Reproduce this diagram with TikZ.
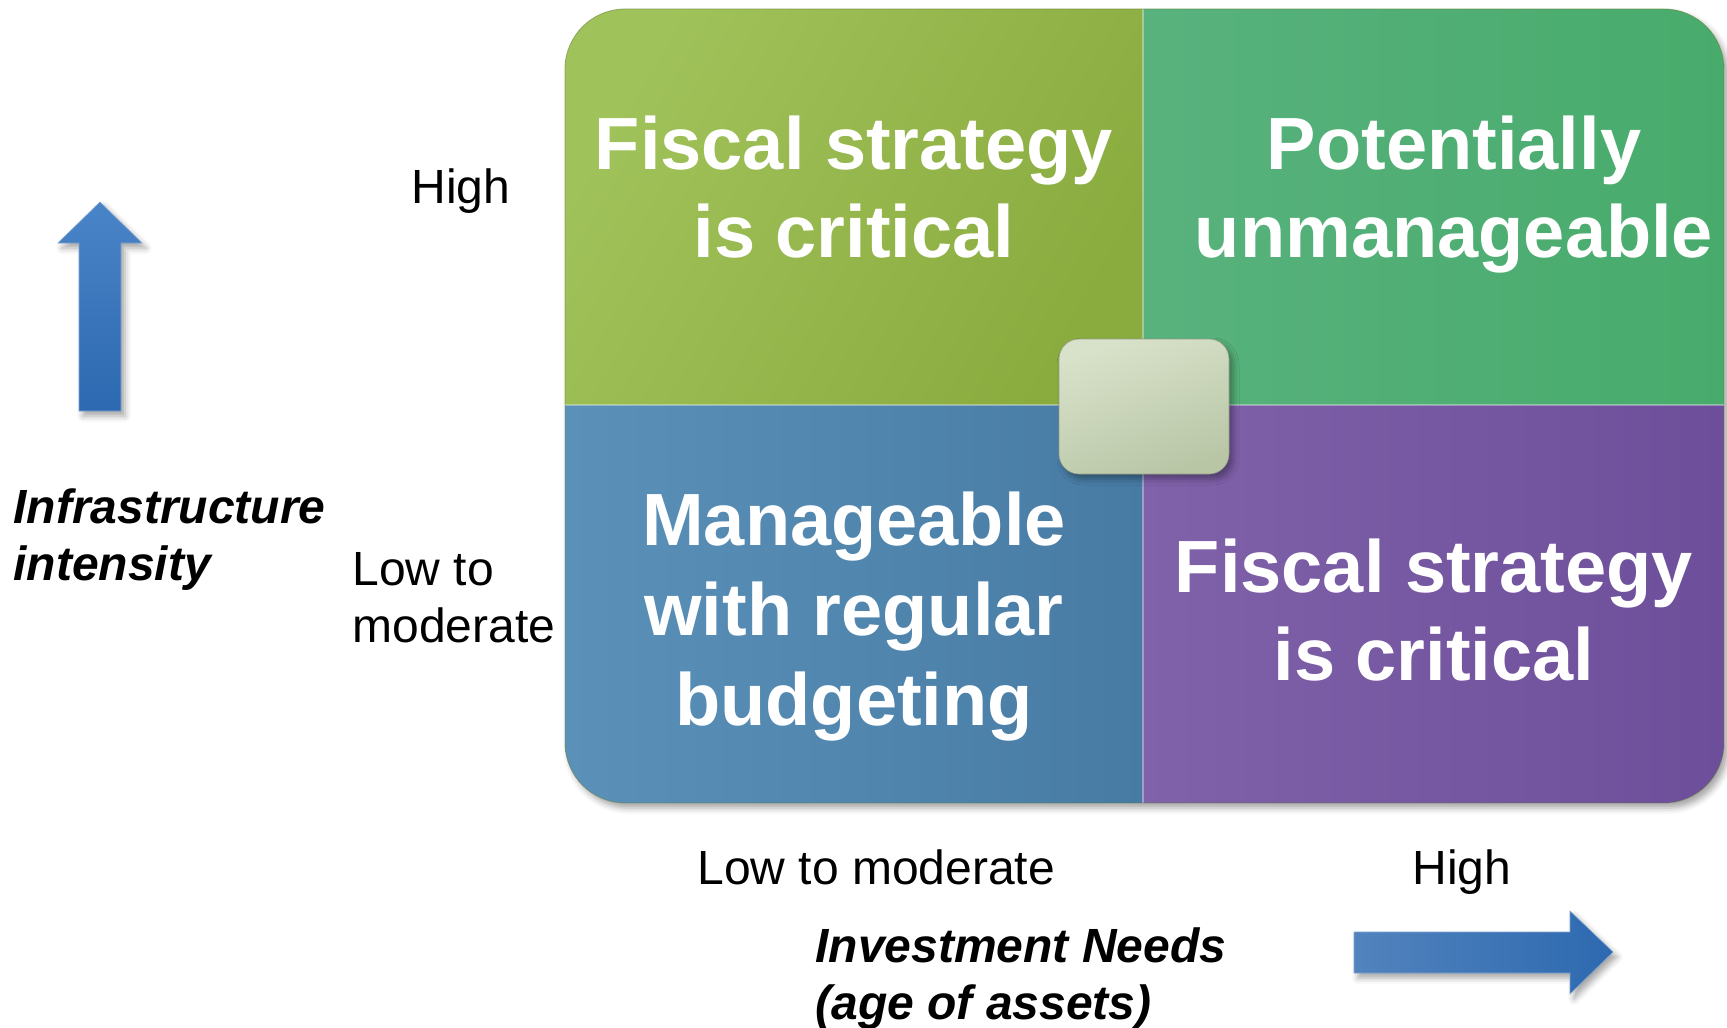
\documentclass[tikz,border=0pt]{standalone}
\usepackage{fontspec}
\setmainfont{Liberation Sans}
\usetikzlibrary{shadows.blur}

\definecolor{leafhi}{HTML}{A0C25A}
\definecolor{leaflo}{HTML}{8AAB3E}
\definecolor{jadehi}{HTML}{58B27D}
\definecolor{jadelo}{HTML}{48AB6C}
\definecolor{steelhi}{HTML}{5B91B8}
\definecolor{steello}{HTML}{477BA4}
\definecolor{plumhi}{HTML}{8062AA}
\definecolor{plumlo}{HTML}{6C4E9A}
\definecolor{hubhi}{HTML}{D8E2CA}
\definecolor{hublo}{HTML}{B9C6A6}
\definecolor{arrowhi}{HTML}{4A84C8}
\definecolor{arrowmid}{HTML}{3A78C6}
\definecolor{arrowlo}{HTML}{2D69B0}

\begin{document}
\begin{tikzpicture}[
  x=0.5pt, y=-0.5pt,
  cell/.style={font=\fontsize{37}{44}\selectfont\bfseries, text=white, align=center, anchor=base, inner sep=0pt},
  level/.style={font=\fontsize{24}{28.5}\selectfont, align=left, anchor=base west, inner sep=0pt},
  axisname/.style={font=\fontsize{24}{28.5}\selectfont\bfseries\itshape, align=left, anchor=base west, inner sep=0pt},
  softshadow/.style={blur shadow={shadow xshift=2pt, shadow yshift=-2.5pt, shadow blur radius=3pt, shadow opacity=35}},
  hub/.style={rectangle, rounded corners=10pt, minimum width=85pt, minimum height=67.5pt,
    top color=hubhi, bottom color=hublo, shading angle=20, draw=hublo!80!black, line width=0.3pt, softshadow},
  bigarrow/.style={softshadow, draw=arrowlo!60!white, line width=0.3pt}
]
\useasboundingbox (0,0) rectangle (1727,1027);

% the board: four quadrants inside one rounded frame
\path[softshadow, fill=white, rounded corners=30pt] (565,9) rectangle (1724,803);
\begin{scope}
  \clip[rounded corners=30pt] (565,9) rectangle (1724,803);
  \shade[left color=leafhi, right color=leaflo, shading angle=60] (565,9) rectangle (1143,405);
  \shade[left color=jadehi, right color=jadelo] (1143,9) rectangle (1724,405);
  \shade[left color=steelhi, right color=steello] (565,405) rectangle (1143,803);
  \shade[left color=plumhi, right color=plumlo] (1143,405) rectangle (1724,803);
  \draw[white, opacity=0.35, line width=0.6pt] (1143,9) -- (1143,803) (565,405) -- (1724,405);
\end{scope}
\draw[leaflo!70!black, opacity=0.5, line width=0.4pt, rounded corners=30pt] (565,9) rectangle (1724,803);

% quadrant captions (base = last line)
\node[cell] (topleft) at (854,257) {Fiscal strategy\\is critical};
\node[cell] (topright) at (1454,257) {Potentially\\unmanageable};
\node[cell, font=\fontsize{37}{45}\selectfont\bfseries] (bottomleft) at (854,725) {Manageable\\with regular\\budgeting};
\node[cell] (bottomright) at (1434,680) {Fiscal strategy\\is critical};

% centre tile
\node[hub] (centre) at (1144,406.5) {};

% vertical axis
\path[bigarrow, top color=arrowhi, bottom color=arrowlo]
  (79,411) -- (79,243) -- (58,243) -- (100,202) -- (142,243) -- (121,243) -- (121,411) -- cycle;
\node[level] (yhigh) at (411,204) {High};
\node[level] (ylow) at (352,642) {Low to\\moderate};
\node[axisname] (ytitle) at (13,580) {Infrastructure\\intensity};

% horizontal axis
\path[bigarrow, left color=arrowhi!85!gray, middle color=arrowmid, right color=arrowlo]
  (1354,932) -- (1570,932) -- (1570,911) -- (1613,952) -- (1570,994) -- (1570,973) -- (1354,973) -- cycle;
\node[level] (xlow) at (697,884) {Low to moderate};
\node[level] (xhigh) at (1412,884) {High};
\node[axisname] (xtitle) at (815,1019) {Investment Needs\\(age of assets)};

\end{tikzpicture}
\end{document}
